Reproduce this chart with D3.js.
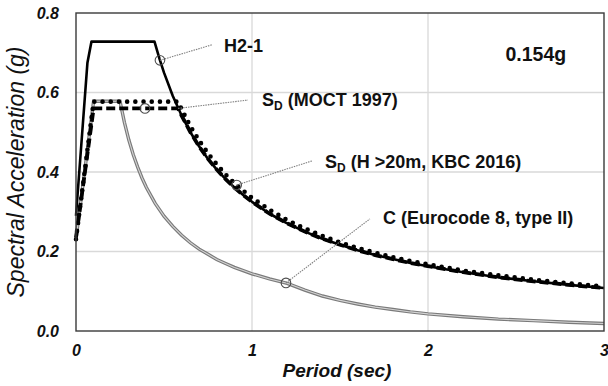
<!DOCTYPE html>
<html>
<head>
<meta charset="utf-8">
<script src="https://cdn.jsdelivr.net/npm/d3@7"></script>
<style>
  html, body { margin: 0; padding: 0; background: #fff; }
  svg { display: block; font-family: "Liberation Sans", Arial, sans-serif; }
</style>
</head>
<body>
<svg id="chart" width="608" height="386"></svg>
<script>
// Design response spectra, PGA 0.154g: period (sec) vs spectral acceleration (g)
const h21 = [
  [0, 0.29], [0.065, 0.675], [0.088, 0.728], [0.446, 0.728], [0.475, 0.684],
  [0.5, 0.650], [0.55, 0.591], [0.6, 0.542], [0.65, 0.500], [0.7, 0.464],
  [0.75, 0.433], [0.8, 0.406], [0.85, 0.382], [0.9, 0.361], [0.95, 0.342],
  [1.0, 0.325], [1.1, 0.295], [1.2, 0.271], [1.3, 0.250], [1.4, 0.232],
  [1.5, 0.217], [1.6, 0.203], [1.7, 0.191], [1.8, 0.181], [1.9, 0.171],
  [2.0, 0.163], [2.2, 0.148], [2.4, 0.135], [2.6, 0.125], [2.8, 0.116], [3.0, 0.108]
];
const moct1997 = [
  [0, 0.235], [0.1, 0.56], [0.58, 0.56], [0.6, 0.542], [0.65, 0.500], [0.7, 0.464],
  [0.75, 0.433], [0.8, 0.406], [0.85, 0.382], [0.9, 0.361], [0.95, 0.342],
  [1.0, 0.325], [1.1, 0.295], [1.2, 0.271], [1.3, 0.250], [1.4, 0.232],
  [1.5, 0.217], [1.6, 0.203], [1.7, 0.191], [1.8, 0.181], [1.9, 0.171],
  [2.0, 0.163], [2.2, 0.148], [2.4, 0.135], [2.6, 0.125], [2.8, 0.116], [3.0, 0.108]
];
const kbc2016 = [
  [0, 0.231], [0.1, 0.577], [0.58, 0.577], [0.6, 0.558], [0.65, 0.515], [0.7, 0.479],
  [0.75, 0.447], [0.8, 0.419], [0.85, 0.394], [0.9, 0.372], [0.95, 0.353],
  [1.0, 0.335], [1.1, 0.305], [1.2, 0.279], [1.3, 0.258], [1.4, 0.239],
  [1.5, 0.223], [1.6, 0.209], [1.7, 0.197], [1.8, 0.186], [1.9, 0.176],
  [2.0, 0.168], [2.2, 0.152], [2.4, 0.140], [2.6, 0.129], [2.8, 0.120], [3.0, 0.112]
];
const eurocode8 = [
  [0, 0.231], [0.1, 0.578], [0.25, 0.578], [0.275, 0.525], [0.3, 0.481],
  [0.325, 0.444], [0.35, 0.413], [0.375, 0.385], [0.4, 0.361], [0.45, 0.321],
  [0.5, 0.289], [0.55, 0.263], [0.6, 0.241], [0.65, 0.222], [0.7, 0.206],
  [0.75, 0.193], [0.8, 0.180], [0.85, 0.170], [0.9, 0.160], [0.95, 0.152],
  [1.0, 0.144], [1.1, 0.131], [1.2, 0.120], [1.3, 0.103], [1.4, 0.088],
  [1.5, 0.077], [1.6, 0.068], [1.7, 0.060], [1.8, 0.054], [1.9, 0.048],
  [2.0, 0.043], [2.2, 0.036], [2.4, 0.030], [2.6, 0.026], [2.8, 0.022], [3.0, 0.019]
];

const xTicks = [0, 1, 2, 3];
const yTicks = [0, 0.2, 0.4, 0.6, 0.8];
const pgaLabel = "0.154g";

// Callouts: marker point on the curve, leader start, label anchor (data units)
const callouts = [
  { main: "H2-1", sub: "", rest: "", mark: [0.477, 0.681], from: [0.477, 0.681], to: [0.773, 0.720], label: [0.841, 0.703] },
  { main: "S", sub: "D", rest: " (MOCT 1997)", mark: [0.392, 0.56], from: [0.58, 0.56], to: [0.977, 0.581], label: [1.057, 0.567] },
  { main: "S", sub: "D", rest: " (H >20m,  KBC 2016)", mark: [0.913, 0.367], from: [0.913, 0.367], to: [1.341, 0.428], label: [1.415, 0.410] },
  { main: "C (Eurocode 8, type II)", sub: "", rest: "", mark: [1.193, 0.121], from: [1.193, 0.121], to: [1.670, 0.282], label: [1.745, 0.269] }
];

const svg = d3.select("#chart");
const W = 608, H = 386;
const m = { left: 76, right: 4, top: 13, bottom: 55 };
const x = d3.scaleLinear().domain([0, 3]).range([m.left, W - m.right]);
const y = d3.scaleLinear().domain([0, 0.8]).range([H - m.bottom, m.top]);

// gridlines
svg.append("g").selectAll("line.gy").data(yTicks.filter(d => d > 0 && d < 0.8)).join("line")
  .attr("x1", x(0)).attr("x2", x(3)).attr("y1", d => y(d)).attr("y2", d => y(d))
  .attr("stroke", "#d9d9d9").attr("stroke-width", 1.3);
svg.append("g").selectAll("line.gx").data(xTicks.filter(d => d > 0 && d < 3)).join("line")
  .attr("y1", y(0)).attr("y2", y(0.8)).attr("x1", d => x(d)).attr("x2", d => x(d))
  .attr("stroke", "#d9d9d9").attr("stroke-width", 1.3);

// axes (labels only, frame drawn separately)
const xAxis = svg.append("g").attr("transform", `translate(0,${y(0)})`)
  .call(d3.axisBottom(x).tickValues(xTicks).tickFormat(d3.format("d")).tickSize(0).tickPadding(14));
const yAxis = svg.append("g").attr("transform", `translate(${x(0)},0)`)
  .call(d3.axisLeft(y).tickValues(yTicks).tickFormat(d3.format(".1f")).tickSize(0).tickPadding(17));
[xAxis, yAxis].forEach(a => {
  a.select(".domain").remove();
  a.selectAll("text").attr("font-family", "'Liberation Sans', Arial, sans-serif")
    .attr("font-size", 16).attr("font-weight", "bold").attr("font-style", "italic").attr("fill", "#111");
});

const line = d3.line().x(d => x(d[0])).y(d => y(d[1]));

// Eurocode 8: double grey line
svg.append("path").attr("d", line(eurocode8)).attr("fill", "none")
  .attr("stroke", "#7a7a7a").attr("stroke-width", 3.4);
svg.append("path").attr("d", line(eurocode8)).attr("fill", "none")
  .attr("stroke", "#d4d4d4").attr("stroke-width", 1.1);

// MOCT 1997: heavy dashed
svg.append("path").attr("d", line(moct1997)).attr("fill", "none")
  .attr("stroke", "#000").attr("stroke-width", 3.8).attr("stroke-dasharray", "9 4");

// H2-1: solid
svg.append("path").attr("d", line(h21)).attr("fill", "none")
  .attr("stroke", "#000").attr("stroke-width", 2.6).attr("stroke-linejoin", "round");

// KBC 2016: round dots
svg.append("path").attr("d", line(kbc2016)).attr("fill", "none")
  .attr("stroke", "#000").attr("stroke-width", 4.6).attr("stroke-linecap", "round")
  .attr("stroke-dasharray", "0 8.2");

// plot frame
svg.append("rect").attr("x", x(0)).attr("y", y(0.8))
  .attr("width", x(3) - x(0)).attr("height", y(0) - y(0.8))
  .attr("fill", "none").attr("stroke", "#3a3a3a").attr("stroke-width", 1.4);

// callouts
const cg = svg.append("g");
callouts.forEach(c => {
  const mx = x(c.mark[0]), my = y(c.mark[1]);
  const fx = x(c.from[0]), fy = y(c.from[1]);
  const tx = x(c.to[0]), ty = y(c.to[1]);
  cg.append("line").attr("x1", fx).attr("y1", fy).attr("x2", tx).attr("y2", ty)
    .attr("stroke", "#808080").attr("stroke-width", 1.1).attr("stroke-dasharray", "1.5 1");
  cg.append("circle").attr("cx", mx).attr("cy", my).attr("r", 4.8)
    .attr("fill", "none").attr("stroke", "#4d4d4d").attr("stroke-width", 1.1);
  const t = cg.append("text").attr("x", x(c.label[0])).attr("y", y(c.label[1]))
    .attr("font-size", 18).attr("font-weight", "bold").attr("fill", "#111");
  t.append("tspan").text(c.main);
  if (c.sub) {
    t.append("tspan").attr("font-size", 12).attr("dy", 4).text(c.sub);
    t.append("tspan").attr("dy", -4).text(c.rest);
  }
});

// PGA note
svg.append("text").attr("x", x(2.44)).attr("y", y(0.679)).attr("font-size", 19.5)
  .attr("font-weight", "bold").attr("fill", "#111").text(pgaLabel);

// axis titles
svg.append("text").attr("x", (x(0) + x(3)) / 2 - 3).attr("y", 377).attr("text-anchor", "middle")
  .attr("font-size", 19).attr("font-weight", "bold").attr("font-style", "italic").attr("fill", "#111")
  .text("Period (sec)");
svg.append("text").attr("transform", `translate(24,${(y(0) + y(0.8)) / 2}) rotate(-90)`)
  .attr("text-anchor", "middle").attr("font-size", 23).attr("font-style", "italic").attr("fill", "#111")
  .text("Spectral Acceleration (g)");
</script>
</body>
</html>
